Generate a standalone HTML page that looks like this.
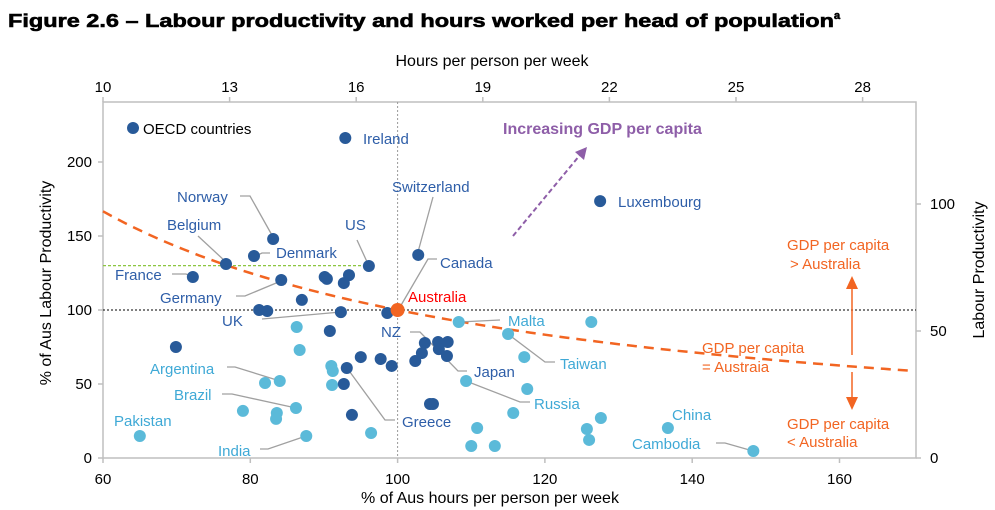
<!DOCTYPE html>
<html><head><meta charset="utf-8"><style>
body{margin:0;background:#fff;}
svg{display:block;font-family:"Liberation Sans",Arial,sans-serif;}
</style></head><body>
<svg id="chart" width="995" height="510" viewBox="0 0 995 510">
<text x="8" y="27" font-size="18.5" font-weight="bold" fill="#000" stroke="#000" stroke-width="0.6"><tspan textLength="826" lengthAdjust="spacingAndGlyphs">Figure 2.6 – Labour productivity and hours worked per head of population</tspan><tspan font-size="11" dy="-8">a</tspan></text>
<g id="axes"></g>
<g id="guides"></g>
<g id="leaders" stroke="#a0a0a0" stroke-width="1.3" fill="none"></g>
<g id="marks"></g>
<g id="labels" font-size="15"></g>
</svg>
<script>
const darkX=[92.9,83.1,80.5,76.7,96.1,72.2,84.2,90.1,90.4,93.4,92.7,87.0,81.2,82.3,92.3,98.6,102.8,127.5,69.9,90.8,95.0,97.7,99.2,93.1,92.7,93.8,103.7,103.3,102.4,105.5,106.8,105.6,106.7,104.4,104.8];
const darkY=[216.2,148,136.5,131.1,129.7,122.3,120.3,122.3,121,123.6,118.2,106.8,100,99.3,98.6,98,137.2,173.6,75,85.8,68.2,66.9,62.2,60.8,50,29.1,77.7,70.9,65.5,78.4,78.4,73.6,68.9,36.5,36.5];
const lightX=[108.3,126.3,115.0,117.2,109.3,117.6,115.7,110.8,110.0,113.2,125.7,126.0,127.6,136.7,148.3,86.3,86.7,91.0,91.2,91.1,82.0,84.0,79.0,83.6,83.5,86.2,65.0,87.6,96.4];
const lightY=[91.9,91.9,83.8,68.2,52,46.6,30.4,20.3,8.1,8.1,19.6,12.2,27,20.3,4.7,88.5,73,62.2,58.8,49.3,50.7,52,31.8,30.4,26.4,33.8,14.9,14.9,16.9];
const ausX=[100], ausY=[100];
const xTicks=[60,80,100,120,140,160];
const yTicks=[0,50,100,150,200];
const topTicks=[10,13,16,19,22,25,28];
const rightTicks=[0,50,100];
const L=103,R=916,T=102,B=458;
const sx=v=>L+(v-60)*7.365;
const sy=v=>B-v*1.48;
const tx=h=>103+(h-10)*42.2;
const ry=v=>B-v*2.54;
const NS="http://www.w3.org/2000/svg";
function mk(parent,tag,attrs,text){const e=document.createElementNS(NS,tag);for(const k in attrs)e.setAttribute(k,attrs[k]);if(text!==undefined)e.textContent=text;document.getElementById(parent).appendChild(e);return e;}
let e;
e=mk('axes','rect',{x:L,y:T,width:R-L,height:B-T,fill:'none',stroke:'#bfbfbf','stroke-width':1.5});


xTicks.forEach(v=>{
 mk('axes','line',{x1:sx(v),x2:sx(v),y1:B,y2:B+5,stroke:'#bfbfbf','stroke-width':1.5});
 e=mk('axes','text',{x:sx(v),y:B+26,'font-size':15,'text-anchor':'middle'},String(v));
 
 
});
yTicks.forEach(v=>{
 mk('axes','line',{x1:L-5,x2:L,y1:sy(v),y2:sy(v),stroke:'#bfbfbf','stroke-width':1.5});
 e=mk('axes','text',{x:L-11,y:sy(v)+5,'font-size':15,'text-anchor':'end'},String(v));
 
 
});
topTicks.forEach(v=>{
 mk('axes','line',{x1:tx(v),x2:tx(v),y1:T-5,y2:T,stroke:'#bfbfbf','stroke-width':1.5});
 e=mk('axes','text',{x:tx(v),y:T-10,'font-size':15,'text-anchor':'middle'},String(v));
 
 
});
rightTicks.forEach(v=>{
 mk('axes','line',{x1:R,x2:R+5,y1:ry(v),y2:ry(v),stroke:'#bfbfbf','stroke-width':1.5});
 e=mk('axes','text',{x:R+14,y:ry(v)+5,'font-size':15},String(v));
 
 
});
e=mk('axes','text',{x:492,y:66,'font-size':16,'text-anchor':'middle'},'Hours per person per week');


e=mk('axes','text',{x:490,y:503,'font-size':16,'text-anchor':'middle'},'% of Aus hours per person per week');


e=mk('axes','text',{x:0,y:0,'font-size':16,'text-anchor':'middle',transform:'translate(51,283) rotate(-90)'},'% of Aus Labour Productivity');


e=mk('axes','text',{x:0,y:0,'font-size':16,'text-anchor':'middle',transform:'translate(984,270) rotate(-90)'},'Labour Productivity');


mk('guides','line',{x1:sx(100),x2:sx(100),y1:T,y2:B,stroke:'#999','stroke-width':1,'stroke-dasharray':'2,2'});
mk('guides','line',{x1:L,x2:R,y1:sy(100),y2:sy(100),stroke:'#000','stroke-width':1,'stroke-dasharray':'2,2'});
mk('guides','line',{x1:L,x2:sx(96.1),y1:sy(130),y2:sy(130),stroke:'#8cc63f','stroke-width':1.2,'stroke-dasharray':'3,2'});
let pts=[];for(let x=60;x<=170.4;x+=1){pts.push(sx(x).toFixed(1)+','+sy(10000/x).toFixed(1));}
e=mk('guides','polyline',{points:pts.join(' '),fill:'none',stroke:'#f26522','stroke-width':2.5,'stroke-dasharray':'10,7'});


lightX.forEach((x,i)=>{e=mk('marks','circle',{cx:sx(x),cy:sy(lightY[i]),r:6,fill:'#5bbad9'});

});
darkX.forEach((x,i)=>{e=mk('marks','circle',{cx:sx(x),cy:sy(darkY[i]),r:6,fill:'#285a99'});

});
ausX.forEach((x,i)=>{e=mk('marks','circle',{cx:sx(x),cy:sy(ausY[i]),r:7,fill:'#f26522'});

});
[[[240,196],[250,196],[273,237]],[[198,236],[226,262]],[[256,256],[262,253],[270,253]],[[357,240],[368,264]],[[172,274],[186,274],[191,276]],[[236,296],[245,296],[281,281]],[[262,319],[341,312]],[[433,197],[418,252]],[[437,259],[428,259],[400,307]],[[410,332],[420,332],[458,371],[467,371]],[[227,367],[235,367],[280,381]],[[222,394],[232,394],[296,408]],[[260,449],[268,449],[306,436]],[[395,420],[385,420],[347,368]],[[466,381],[520,402],[530,402]],[[459,322],[500,320]],[[508,334],[545,362],[555,362]],[[716,443],[725,443],[753,451]]].forEach(p=>{mk('leaders','polyline',{points:p.map(q=>q.join(',')).join(' ')});});
const D='#2e5ea8',Lc='#3fa9d6',O='#f26522';
[['Ireland',363,144,D],['Norway',177,202,D],['Belgium',167,230,D],['Denmark',276,258,D],['US',345,230,D],['France',115,280,D],['Germany',160,303,D],['UK',222,326,D],['NZ',381,337,D],['Switzerland',392,192,D],['Canada',440,268,D],['Australia',408,302,'#ff0000'],['Luxembourg',618,207,D],['Argentina',150,374,Lc],['Brazil',174,400,Lc],['Pakistan',114,426,Lc],['India',218,456,Lc],['Greece',402,427,D],['Japan',474,377,D],['Russia',534,409,Lc],['Malta',508,326,Lc],['Taiwan',560,369,Lc],['China',672,420,Lc],['Cambodia',632,449,Lc],
['GDP per capita',787,250,O],['> Australia',790,269,O],['GDP per capita',702,353,O],['= Austraia',702,372,O],['GDP per capita',787,429,O],['< Australia',787,447,O]].forEach(a=>{
 e=mk('labels','text',{x:a[1],y:a[2],fill:a[3]},a[0]);
 
 
});
e=mk('labels','text',{x:503,y:134,fill:'#8e5ea8','font-weight':'bold','font-size':16},'Increasing GDP per capita');


mk('labels','line',{x1:513,y1:236,x2:580,y2:155,stroke:'#8e5ea8','stroke-width':2,'stroke-dasharray':'5,3'});
mk('labels','polygon',{points:'587,147 575,152 584,160',fill:'#8e5ea8'});
mk('labels','line',{x1:852,y1:285,x2:852,y2:355,stroke:O,'stroke-width':1.5});
mk('labels','polygon',{points:'852,276 846,289 858,289',fill:O});
mk('labels','line',{x1:852,y1:372,x2:852,y2:400,stroke:O,'stroke-width':1.5});
mk('labels','polygon',{points:'852,410 846,397 858,397',fill:O});
e=mk('labels','circle',{cx:133,cy:128,r:6,fill:'#285a99'});


e=mk('labels','text',{x:143,y:134,fill:'#000'},'OECD countries');


</script>
</body></html>
